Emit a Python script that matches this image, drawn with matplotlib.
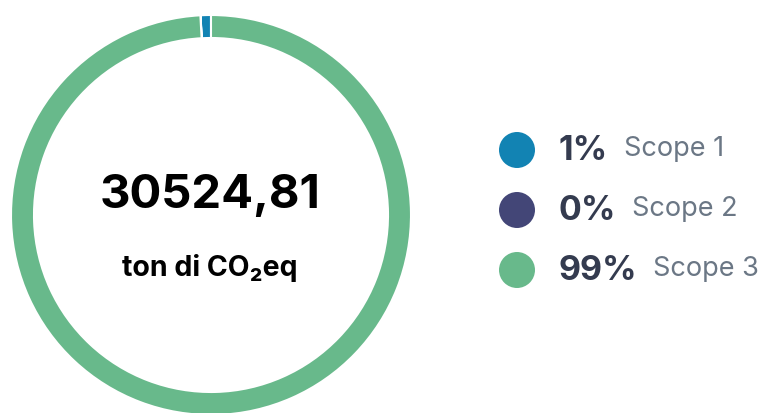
import matplotlib
matplotlib.use("Agg")
import matplotlib.pyplot as plt
from matplotlib.patches import Circle

# emissions by scope (ton CO2eq)
scopes = ["Scope 1", "Scope 2", "Scope 3"]
values = [255.0, 3.0, 30266.81]
colors = ["#1283b3", "#434677", "#68b98b"]
total_label = "30524,81"
unit_label = "ton di CO₂eq"

plt.rcParams["font.family"] = ["Inter", "DejaVu Sans"]

W, H = 765, 414
fig = plt.figure(figsize=(W / 100, H / 100), dpi=100)
ax = fig.add_axes([0, 0, 1, 1])

# donut, centre (211, 216) px from top-left, radius 200 px
cx, cy, r = 211, H - 216, 200
ax.pie(values, colors=colors, startangle=90, counterclock=True,
       center=(cx, cy), radius=r, frame=True,
       wedgeprops=dict(width=23, edgecolor="white", linewidth=1.5))
ax.set_xlim(0, W)
ax.set_ylim(0, H)
ax.set_aspect("equal")
ax.axis("off")

ax.text(cx - 1, H - 196, total_label, ha="center", va="center",
        fontsize=34, fontweight="bold", color="black")
ax.text(cx - 1, H - 268, unit_label, ha="center", va="center",
        fontsize=20.5, fontweight="bold", color="black")

# legend
tot = sum(values)
rows_y = [151, 211, 271]
for name, v, c, y in zip(scopes, values, colors, rows_y):
    ax.add_patch(Circle((517, H - y), 18, color=c, lw=0))
    pct = ax.text(559, H - y, f"{v / tot * 100:.0f}%", ha="left",
                  va="center", fontsize=24.5, fontweight="bold",
                  color="#343b4f")
    ax.annotate(name, xy=(1, 0.5), xycoords=pct, xytext=(11, 1.5),
                textcoords="offset points", ha="left", va="center",
                fontsize=19.5, color="#6b7785")

fig.savefig("out.png", dpi=100, facecolor="white")
